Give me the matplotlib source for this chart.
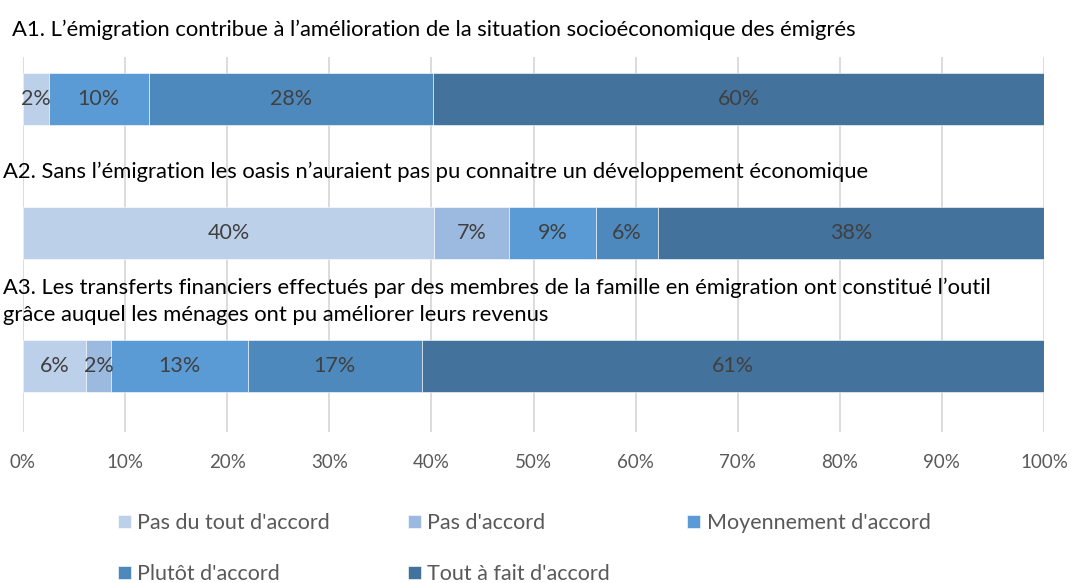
import matplotlib
matplotlib.use("Agg")
import matplotlib.pyplot as plt

# Data
questions = [
    "A1. L\u2019émigration contribue à l\u2019amélioration de la situation socioéconomique des émigrés",
    "A2. Sans l\u2019émigration les oasis n\u2019auraient pas pu connaitre un développement économique",
    "A3. Les transferts financiers effectués par des membres de la famille en émigration ont constitué l\u2019outil\n"
    "grâce auquel les ménages ont pu améliorer leurs revenus",
]
categories = ["Pas du tout d'accord", "Pas d'accord", "Moyennement d'accord",
              "Plutôt d'accord", "Tout à fait d'accord"]
pas_du_tout = [2.5, 40.3, 6.2]
pas_accord = [0.0, 7.3, 2.4]
moyennement = [9.8, 8.5, 13.4]
plutot = [27.9, 6.1, 17.1]
tout_a_fait = [59.8, 37.8, 60.9]
labels = [
    ["2%", "40%", "6%"],
    ["", "7%", "2%"],
    ["10%", "9%", "13%"],
    ["28%", "6%", "17%"],
    ["60%", "38%", "61%"],
]
series = [pas_du_tout, pas_accord, moyennement, plutot, tout_a_fait]
colors = ["#BDD0EA", "#9CBAE0", "#5B9BD5", "#4E89BE", "#43729D"]

plt.rcParams['font.family'] = ['Lato', 'DejaVu Sans']

fig = plt.figure(figsize=(10.73, 5.83), dpi=100)
W, H = 1073, 583
ax = fig.add_axes([23 / W, 1 - 432 / H, (1044 - 23) / W, (432 - 57) / H])

ypos = [0, 1, 2]
left = [0, 0, 0]
handles = []
for vals, lab, col, name in zip(series, labels, colors, categories):
    bars = ax.barh(ypos, vals, left=left, height=0.39, color=col,
                   edgecolor='white', linewidth=0.4, zorder=3, label=name)
    handles.append(bars)
    for y, v, l, t in zip(ypos, vals, left, lab):
        if v > 0 and t:
            ax.text(l + v / 2, y, t, ha='center', va='center',
                    fontsize=15.5, color='#404040', zorder=4)
    left = [a + b for a, b in zip(left, vals)]

ax.set_xlim(0, 100)
ax.set_ylim(2 + 0.494, -0.315)
ax.set_yticks([])
ax.set_xticks(range(0, 101, 10))
ax.set_xticklabels([f"{t}%" for t in range(0, 101, 10)], fontsize=13.5, color='#595959')
ax.tick_params(axis='x', length=0, pad=16)
ax.grid(axis='x', color='#D9D9D9', linewidth=1.3, zorder=0)
for s in ax.spines.values():
    s.set_visible(False)

# white title bands hiding the gridlines
ax.axhspan(0.345, 0.805, color='white', zorder=1, lw=0)
ax.axhspan(1.195, 1.805, color='white', zorder=1, lw=0)

# titles
fig.text(12 / W, 1 - 30 / H, questions[0], ha='left', va='center', fontsize=15.8, color='black')
fig.text(3 / W, 1 - 172 / H, questions[1], ha='left', va='center', fontsize=15.8, color='black')
fig.text(3 / W, 1 - 301 / H, questions[2], ha='left', va='center', fontsize=15.8,
         color='black', linespacing=1.45)

# legend order: row-major across 3 columns
order = [0, 3, 1, 4, 2]
leg = fig.legend(handles=[handles[i] for i in order], labels=[categories[i] for i in order],
                 ncol=3, loc='upper left',
                 bbox_to_anchor=(118 / W, 1 - 513 / H), frameon=False,
                 fontsize=15.5, labelcolor='#595959', handlelength=0.6, handleheight=0.6,
                 handletextpad=0.3, columnspacing=3.6, labelspacing=1.45,
                 borderaxespad=0, borderpad=0)

fig.savefig('out.png', dpi=100)
